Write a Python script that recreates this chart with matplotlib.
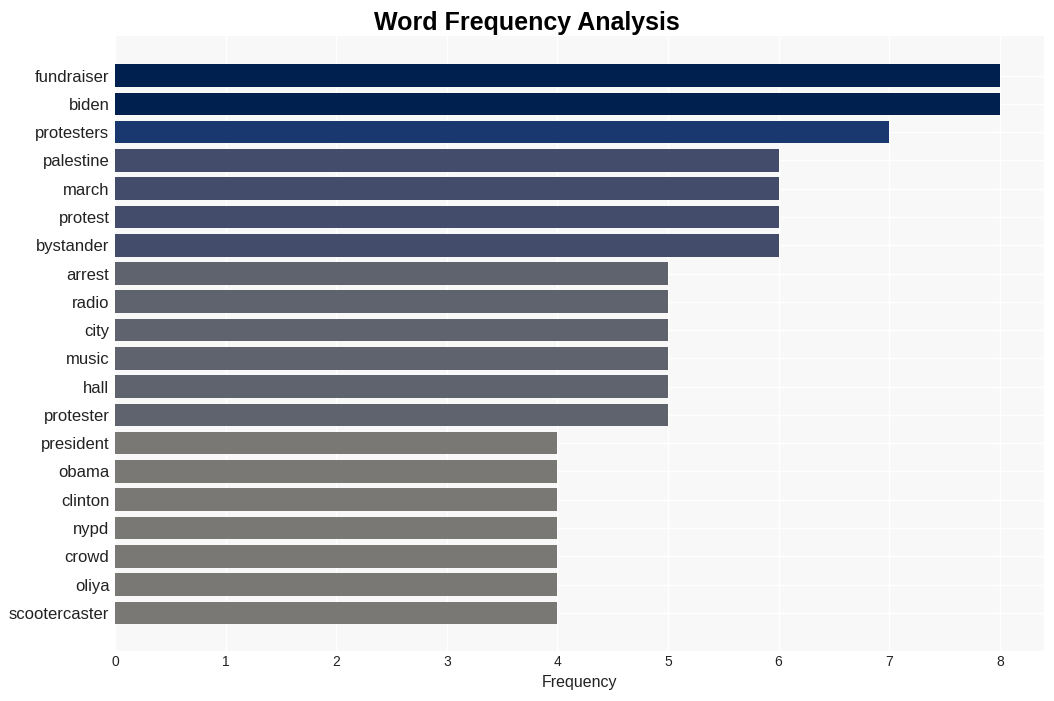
import matplotlib
matplotlib.use('Agg')
import matplotlib.pyplot as plt
import numpy as np

plt.rcParams['font.family'] = ['Liberation Sans', 'DejaVu Sans']

words = ['fundraiser', 'biden', 'protesters', 'palestine', 'march', 'protest',
         'bystander', 'arrest', 'radio', 'city', 'music', 'hall', 'protester',
         'president', 'obama', 'clinton', 'nypd', 'crowd', 'oliya', 'scootercaster']
freqs = [8, 8, 7, 6, 6, 6, 6, 5, 5, 5, 5, 5, 5, 4, 4, 4, 4, 4, 4, 4]
shade = {8: '#00214f', 7: '#1a3870', 6: '#434d6b', 5: '#5f636e', 4: '#7a7874'}

fig = plt.figure(figsize=(10.54, 7.01), dpi=100)
ax = fig.add_axes([115/1054, 50/701, 929/1054, 615/701])
ax.set_facecolor('#f8f8f8')
y = np.arange(len(words))
ax.barh(y, freqs, height=0.8, color=[shade[f] for f in freqs], zorder=2)
ax.set_yticks(y)
ax.set_yticklabels(words, fontsize=12, color='#222222')
ax.set_ylim(len(words) - 1 + 1.35, -1.4)
ax.set_xlim(0, 8.4)
ax.set_xticks(range(9))
ax.tick_params(axis='x', labelsize=10, colors='#222222', length=0, pad=3)
ax.tick_params(axis='y', length=0, pad=4)
ax.grid(True, color='white', linewidth=1, zorder=0)
ax.set_axisbelow(True)
for s in ax.spines.values():
    s.set_visible(False)
ax.set_xlabel('Frequency', fontsize=11.5, color='#222222', labelpad=4)
fig.suptitle('Word Frequency Analysis', fontsize=18, fontweight='bold', y=0.984)
fig.savefig('out.png', dpi=100, facecolor='white')
